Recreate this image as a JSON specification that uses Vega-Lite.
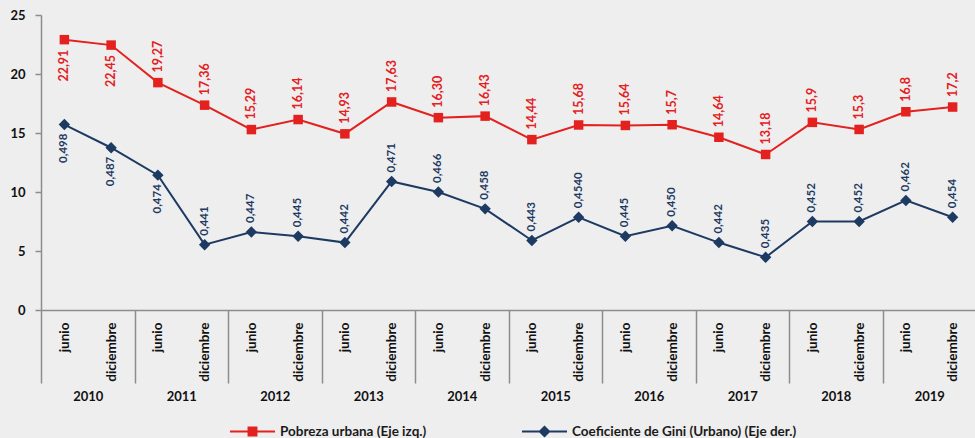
{
"$schema": "https://vega.github.io/schema/vega-lite/v6.json",
"width": 935,
"height": 295,
"autosize": {"type": "none"},
"padding": {"left": 41, "top": 15, "right": 0, "bottom": 128},
"background": "#eeeeee",
"config": {"view": {"stroke": null}, "font": "Lato", "axis": {"grid": false}},
"data": {"values": [
{"periodo": "2010 junio", "anio": "2010", "serie": "Pobreza urbana (Eje izq.)", "valor": 22.91, "etiqueta": "22,91"},
{"periodo": "2010 diciembre", "anio": "2010", "serie": "Pobreza urbana (Eje izq.)", "valor": 22.45, "etiqueta": "22,45"},
{"periodo": "2011 junio", "anio": "2011", "serie": "Pobreza urbana (Eje izq.)", "valor": 19.27, "etiqueta": "19,27"},
{"periodo": "2011 diciembre", "anio": "2011", "serie": "Pobreza urbana (Eje izq.)", "valor": 17.36, "etiqueta": "17,36"},
{"periodo": "2012 junio", "anio": "2012", "serie": "Pobreza urbana (Eje izq.)", "valor": 15.29, "etiqueta": "15,29"},
{"periodo": "2012 diciembre", "anio": "2012", "serie": "Pobreza urbana (Eje izq.)", "valor": 16.14, "etiqueta": "16,14"},
{"periodo": "2013 junio", "anio": "2013", "serie": "Pobreza urbana (Eje izq.)", "valor": 14.93, "etiqueta": "14,93"},
{"periodo": "2013 diciembre", "anio": "2013", "serie": "Pobreza urbana (Eje izq.)", "valor": 17.63, "etiqueta": "17,63"},
{"periodo": "2014 junio", "anio": "2014", "serie": "Pobreza urbana (Eje izq.)", "valor": 16.30, "etiqueta": "16,30"},
{"periodo": "2014 diciembre", "anio": "2014", "serie": "Pobreza urbana (Eje izq.)", "valor": 16.43, "etiqueta": "16,43"},
{"periodo": "2015 junio", "anio": "2015", "serie": "Pobreza urbana (Eje izq.)", "valor": 14.44, "etiqueta": "14,44"},
{"periodo": "2015 diciembre", "anio": "2015", "serie": "Pobreza urbana (Eje izq.)", "valor": 15.68, "etiqueta": "15,68"},
{"periodo": "2016 junio", "anio": "2016", "serie": "Pobreza urbana (Eje izq.)", "valor": 15.64, "etiqueta": "15,64"},
{"periodo": "2016 diciembre", "anio": "2016", "serie": "Pobreza urbana (Eje izq.)", "valor": 15.7, "etiqueta": "15,7"},
{"periodo": "2017 junio", "anio": "2017", "serie": "Pobreza urbana (Eje izq.)", "valor": 14.64, "etiqueta": "14,64"},
{"periodo": "2017 diciembre", "anio": "2017", "serie": "Pobreza urbana (Eje izq.)", "valor": 13.18, "etiqueta": "13,18"},
{"periodo": "2018 junio", "anio": "2018", "serie": "Pobreza urbana (Eje izq.)", "valor": 15.9, "etiqueta": "15,9"},
{"periodo": "2018 diciembre", "anio": "2018", "serie": "Pobreza urbana (Eje izq.)", "valor": 15.3, "etiqueta": "15,3"},
{"periodo": "2019 junio", "anio": "2019", "serie": "Pobreza urbana (Eje izq.)", "valor": 16.8, "etiqueta": "16,8"},
{"periodo": "2019 diciembre", "anio": "2019", "serie": "Pobreza urbana (Eje izq.)", "valor": 17.2, "etiqueta": "17,2"},
{"periodo": "2010 junio", "anio": "2010", "serie": "Coeficiente de Gini (Urbano) (Eje der.)", "valor": 0.498, "etiqueta": "0,498"},
{"periodo": "2010 diciembre", "anio": "2010", "serie": "Coeficiente de Gini (Urbano) (Eje der.)", "valor": 0.487, "etiqueta": "0,487"},
{"periodo": "2011 junio", "anio": "2011", "serie": "Coeficiente de Gini (Urbano) (Eje der.)", "valor": 0.474, "etiqueta": "0,474"},
{"periodo": "2011 diciembre", "anio": "2011", "serie": "Coeficiente de Gini (Urbano) (Eje der.)", "valor": 0.441, "etiqueta": "0,441"},
{"periodo": "2012 junio", "anio": "2012", "serie": "Coeficiente de Gini (Urbano) (Eje der.)", "valor": 0.447, "etiqueta": "0,447"},
{"periodo": "2012 diciembre", "anio": "2012", "serie": "Coeficiente de Gini (Urbano) (Eje der.)", "valor": 0.445, "etiqueta": "0,445"},
{"periodo": "2013 junio", "anio": "2013", "serie": "Coeficiente de Gini (Urbano) (Eje der.)", "valor": 0.442, "etiqueta": "0,442"},
{"periodo": "2013 diciembre", "anio": "2013", "serie": "Coeficiente de Gini (Urbano) (Eje der.)", "valor": 0.471, "etiqueta": "0,471"},
{"periodo": "2014 junio", "anio": "2014", "serie": "Coeficiente de Gini (Urbano) (Eje der.)", "valor": 0.466, "etiqueta": "0,466"},
{"periodo": "2014 diciembre", "anio": "2014", "serie": "Coeficiente de Gini (Urbano) (Eje der.)", "valor": 0.458, "etiqueta": "0,458"},
{"periodo": "2015 junio", "anio": "2015", "serie": "Coeficiente de Gini (Urbano) (Eje der.)", "valor": 0.443, "etiqueta": "0,443"},
{"periodo": "2015 diciembre", "anio": "2015", "serie": "Coeficiente de Gini (Urbano) (Eje der.)", "valor": 0.454, "etiqueta": "0,4540"},
{"periodo": "2016 junio", "anio": "2016", "serie": "Coeficiente de Gini (Urbano) (Eje der.)", "valor": 0.445, "etiqueta": "0,445"},
{"periodo": "2016 diciembre", "anio": "2016", "serie": "Coeficiente de Gini (Urbano) (Eje der.)", "valor": 0.450, "etiqueta": "0,450"},
{"periodo": "2017 junio", "anio": "2017", "serie": "Coeficiente de Gini (Urbano) (Eje der.)", "valor": 0.442, "etiqueta": "0,442"},
{"periodo": "2017 diciembre", "anio": "2017", "serie": "Coeficiente de Gini (Urbano) (Eje der.)", "valor": 0.435, "etiqueta": "0,435"},
{"periodo": "2018 junio", "anio": "2018", "serie": "Coeficiente de Gini (Urbano) (Eje der.)", "valor": 0.452, "etiqueta": "0,452"},
{"periodo": "2018 diciembre", "anio": "2018", "serie": "Coeficiente de Gini (Urbano) (Eje der.)", "valor": 0.452, "etiqueta": "0,452"},
{"periodo": "2019 junio", "anio": "2019", "serie": "Coeficiente de Gini (Urbano) (Eje der.)", "valor": 0.462, "etiqueta": "0,462"},
{"periodo": "2019 diciembre", "anio": "2019", "serie": "Coeficiente de Gini (Urbano) (Eje der.)", "valor": 0.454, "etiqueta": "0,454"}
]},
"layer": [
{
"transform": [{"filter": "datum.serie === 'Pobreza urbana (Eje izq.)'"}],
"encoding": {
"x": {"field": "periodo", "type": "ordinal", "sort": null, "scale": {"type": "point", "padding": 0.5},
"axis": {"orient": "bottom", "title": null, "domain": true, "domainColor": "#8c8c8c", "domainWidth": 1.5, "ticks": false, "labelAngle": 270, "labelPadding": 12, "labelFontSize": 13.5, "labelFontWeight": "bold", "labelColor": "#111111", "labelExpr": "split(datum.label, ' ')[1]"}},
"y": {"field": "valor", "type": "quantitative", "scale": {"domain": [0, 25]},
"axis": {"orient": "left", "title": null, "values": [0, 5, 10, 15, 20, 25], "domainColor": "#8c8c8c", "domainWidth": 1.5, "tickColor": "#8c8c8c", "tickSize": 6, "tickWidth": 1.5, "labelPadding": 10, "labelFontSize": 13, "labelFontWeight": "bold", "labelColor": "#111111"}}
},
"layer": [
{"mark": {"type": "line", "strokeWidth": 2},
"encoding": {"color": {"field": "serie", "type": "nominal",
"scale": {"domain": ["Pobreza urbana (Eje izq.)", "Coeficiente de Gini (Urbano) (Eje der.)"], "range": ["#e3211f", "#1d3a62"]},
"legend": {"orient": "none", "legendX": 189, "legendY": 394, "direction": "horizontal", "title": null, "labelFontSize": 13.5, "labelFontWeight": "bold", "labelColor": "#1a1a1a", "labelLimit": 400, "symbolSize": 2025, "columnPadding": 95, "labelOffset": 5,
"encode": {"symbols": {"update": {
"shape": {"signal": "datum.value === 'Pobreza urbana (Eje izq.)' ? 'M-1,-0.045H-0.22V-0.22H0.22V-0.045H1V0.045H0.22V0.22H-0.22V0.045H-1Z' : 'M-1,-0.045H-0.225L0,-0.27L0.225,-0.045H1V0.045H0.225L0,0.27L-0.225,0.045H-1Z'"},
"fill": {"signal": "datum.value === 'Pobreza urbana (Eje izq.)' ? '#e3211f' : '#1d3a62'"},
"stroke": {"value": "transparent"},
"strokeWidth": {"value": 0},
"opacity": {"value": 1}}}}}}}},
{"mark": {"type": "point", "shape": "square", "filled": true, "size": 90, "opacity": 1},
"encoding": {"color": {"field": "serie", "type": "nominal"}}},
{"transform": [{"filter": "indexof(['2010 junio', '2010 diciembre'], datum.periodo) < 0"}],
"mark": {"type": "text", "angle": 270, "align": "left", "baseline": "middle", "dx": 10, "fontSize": 12.5, "fontWeight": "bold", "color": "#e3211f"},
"encoding": {"text": {"field": "etiqueta"}}},
{"transform": [{"filter": "indexof(['2010 junio', '2010 diciembre'], datum.periodo) >= 0"}],
"mark": {"type": "text", "angle": 270, "align": "right", "baseline": "middle", "dx": -10, "fontSize": 12.5, "fontWeight": "bold", "color": "#e3211f"},
"encoding": {"text": {"field": "etiqueta"}}}
]
},
{
"transform": [{"filter": "datum.serie === 'Coeficiente de Gini (Urbano) (Eje der.)'"}],
"encoding": {
"x": {"field": "periodo", "type": "ordinal", "sort": null, "scale": {"type": "point", "padding": 0.5}, "axis": null},
"y": {"field": "valor", "type": "quantitative", "scale": {"domain": [0.41, 0.55], "zero": false}, "axis": null}
},
"layer": [
{"mark": {"type": "line", "strokeWidth": 2},
"encoding": {"color": {"field": "serie", "type": "nominal"}}},
{"mark": {"type": "point", "shape": "diamond", "filled": true, "size": 130, "opacity": 1},
"encoding": {"color": {"field": "serie", "type": "nominal"}}},
{"transform": [{"filter": "indexof(['2010 junio', '2010 diciembre', '2011 junio'], datum.periodo) < 0"}],
"mark": {"type": "text", "angle": 270, "align": "left", "baseline": "middle", "dx": 9, "fontSize": 11.5, "fontWeight": "bold", "color": "#1d3a62"},
"encoding": {"text": {"field": "etiqueta"}}},
{"transform": [{"filter": "indexof(['2010 junio', '2010 diciembre', '2011 junio'], datum.periodo) >= 0"}],
"mark": {"type": "text", "angle": 270, "align": "right", "baseline": "middle", "dx": -9, "fontSize": 11.5, "fontWeight": "bold", "color": "#1d3a62"},
"encoding": {"text": {"field": "etiqueta"}}}
]
},
{
"transform": [{"filter": "datum.serie === 'Pobreza urbana (Eje izq.)'"}],
"mark": {"type": "point", "opacity": 0},
"encoding": {
"x": {"field": "anio", "type": "ordinal", "scale": {"type": "band", "paddingInner": 0, "paddingOuter": 0},
"axis": {"orient": "bottom", "title": null, "domain": false, "ticks": true, "tickBand": "extent", "tickSize": 73, "tickColor": "#8c8c8c", "tickWidth": 1.5, "labelAngle": 0, "labelPadding": 7, "labelBaseline": "top", "labelFontSize": 13, "labelFontWeight": "bold", "labelColor": "#111111"}}
}
}
],
"resolve": {"scale": {"x": "independent", "y": "independent"}}
}
